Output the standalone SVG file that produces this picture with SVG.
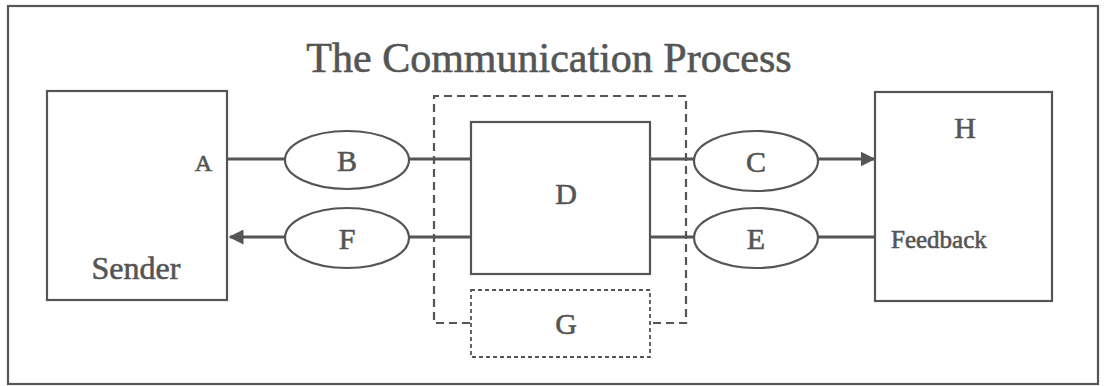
<svg xmlns="http://www.w3.org/2000/svg" width="1105" height="386" viewBox="0 0 1105 386">
  <style>
    .box { fill: none; stroke: #555; stroke-width: 2.2; }
    .oval { fill: #fff; stroke: #555; stroke-width: 2.2; }
    .conn { fill: none; stroke: #555; stroke-width: 3; }
    .dash { fill: none; stroke: #555; stroke-width: 2.2; stroke-dasharray: 8 5; }
    .dashfine { fill: none; stroke: #555; stroke-width: 1.8; stroke-dasharray: 4 3; }
    text { font-family: "Liberation Serif", "Times New Roman", serif; fill: #555; stroke: #555; stroke-width: 0.6; }
    .lbl { font-size: 30px; text-anchor: middle; }
  </style>
  <defs>
    <marker id="arrow" viewBox="0 0 10 10" refX="9" refY="5" markerWidth="5" markerHeight="5" orient="auto" markerUnits="strokeWidth">
      <path d="M0,0 L10,5 L0,10 Z" fill="#555"/>
    </marker>
  </defs>
  <rect x="0" y="0" width="1105" height="386" fill="#fff"/>
  <rect id="frame" x="8" y="6" width="1090" height="378" class="box"/>
  <text id="title" x="549" y="72" font-size="42" text-anchor="middle">The Communication Process</text>

  <g id="connectors">
    <line x1="228" y1="159" x2="285" y2="159" class="conn"/>
    <line x1="409" y1="159" x2="471" y2="159" class="conn"/>
    <line x1="650" y1="159" x2="694" y2="159" class="conn"/>
    <line x1="818" y1="159" x2="874" y2="159" class="conn" marker-end="url(#arrow)"/>
    <line x1="650" y1="237" x2="694" y2="237" class="conn"/>
    <line x1="818" y1="237" x2="876" y2="237" class="conn"/>
    <line x1="409" y1="237" x2="471" y2="237" class="conn"/>
    <line x1="285" y1="237" x2="230" y2="237" class="conn" marker-end="url(#arrow)"/>
    <path id="boundary" d="M470,323 H434 V96 H686 V323 H650" class="dash"/>
  </g>

  <g id="sender">
    <rect x="47" y="91" width="180" height="209" class="box"/>
    <text x="212" y="171" font-size="24" text-anchor="end">A</text>
    <text x="136" y="279" font-size="32" text-anchor="middle">Sender</text>
  </g>
  <g id="B">
    <ellipse cx="347" cy="160" rx="62" ry="29" class="oval"/>
    <text x="347" y="171" class="lbl">B</text>
  </g>
  <g id="F">
    <ellipse cx="347" cy="238" rx="62" ry="30" class="oval"/>
    <text x="347" y="249" class="lbl">F</text>
  </g>
  <g id="D">
    <rect x="471" y="122" width="179" height="152" class="box"/>
    <text x="566" y="204" class="lbl">D</text>
  </g>
  <g id="G">
    <rect x="471" y="290" width="179" height="67" class="dashfine"/>
    <text x="566" y="334" class="lbl">G</text>
  </g>
  <g id="C">
    <ellipse cx="756" cy="161" rx="62" ry="30" class="oval"/>
    <text x="756" y="172" class="lbl">C</text>
  </g>
  <g id="E">
    <ellipse cx="756" cy="238" rx="62" ry="30" class="oval"/>
    <text x="756" y="249" class="lbl">E</text>
  </g>
  <g id="H">
    <rect x="875" y="92" width="177" height="209" class="box"/>
    <text x="965" y="138" class="lbl">H</text>
    <text x="891" y="248" font-size="25">Feedback</text>
  </g>
</svg>
